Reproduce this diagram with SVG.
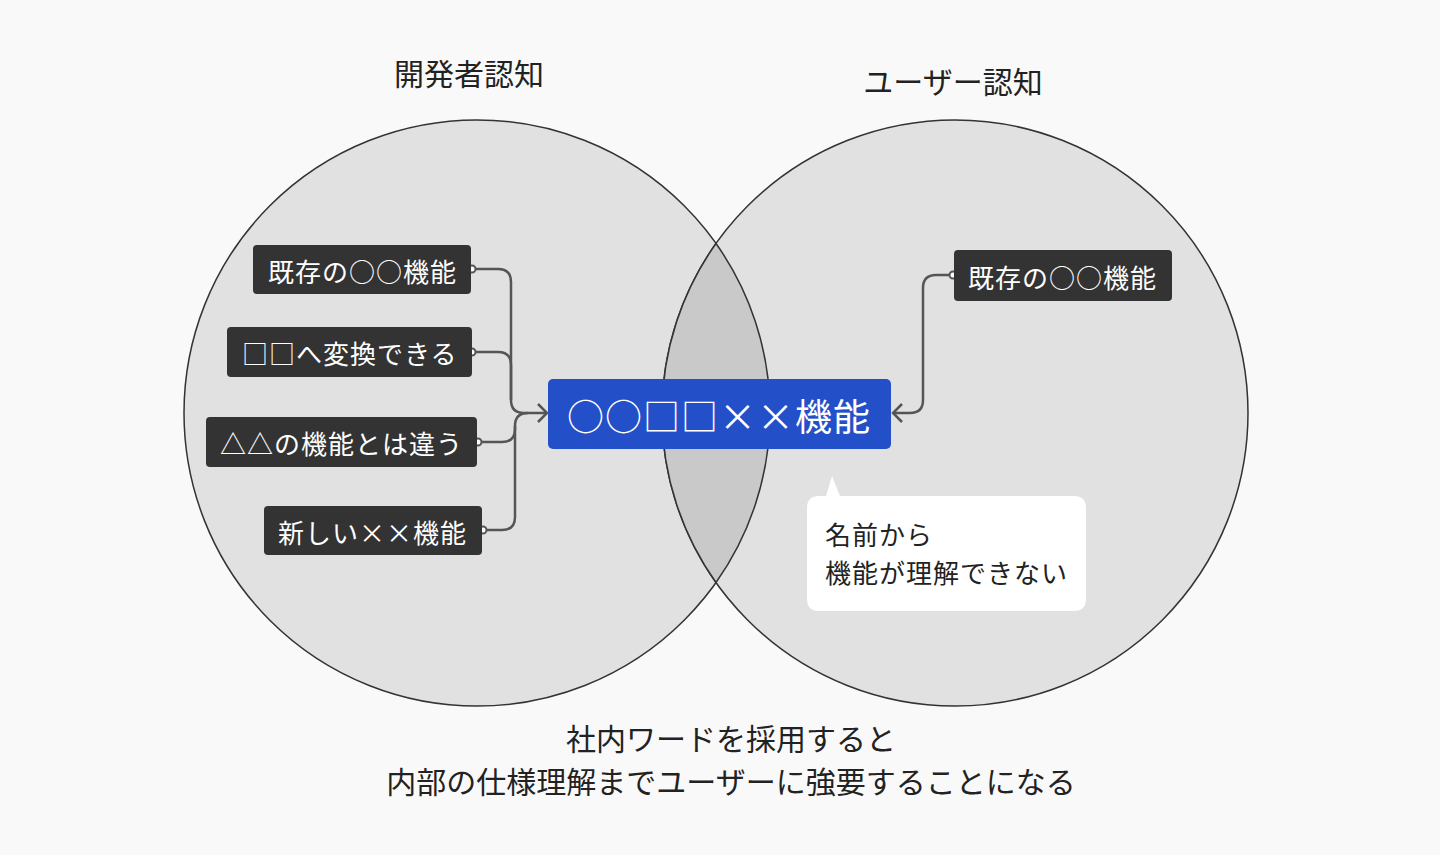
<svg xmlns="http://www.w3.org/2000/svg" width="1440" height="855" viewBox="0 0 1440 855">
<style>
text{font-family:"Noto Sans CJK JP","Noto Sans CJK SC",sans-serif;}
.venn{fill:#e1e1e1;stroke:#333;stroke-width:1.5;}
.lens{fill:#c9c9c9;stroke:none;}
.tag rect{fill:#333;}
.tag text{fill:#fff;font-size:26px;dominant-baseline:central;letter-spacing:1px;}
.conn{fill:none;stroke:#555;stroke-width:2.5;}
.dot{fill:#fff;stroke:#555;stroke-width:2;}
.title{fill:#222;font-size:30px;text-anchor:middle;}
.note{fill:#222;font-size:26px;letter-spacing:1px;}
</style>
<rect width="1440" height="855" fill="#f9f9f9"/>
<g id="venn">
<circle class="venn" cx="477" cy="413" r="293"/>
<circle class="venn" cx="955" cy="413" r="293"/>
<path class="lens" d="M716,243.5 A293,293 0 0,1 716,582.5 A293,293 0 0,1 716,243.5 Z"/>
<path d="M716,243.5 A293,293 0 0,1 716,582.5 M716,582.5 A293,293 0 0,1 716,243.5" fill="none" stroke="#333" stroke-width="1.5"/>
</g>
<g id="titles">
<text class="title" x="469" y="85">開発者認知</text>
<text class="title" x="953" y="93">ユーザー認知</text>
</g>
<g id="connectors">
<path class="conn" d="M472,269 H498 Q511,269 511,282 V400 Q511,413 524,413 H546"/>
<path class="conn" d="M472,352 H498 Q511,352 511,365 V400"/>
<path class="conn" d="M478,442 H502 Q515,442 515,429 V426 Q515,413 528,413"/>
<path class="conn" d="M483,530 H502 Q515,530 515,517 V426"/>
<path class="conn" d="M538,404 L547,413 L538,422"/>
<path class="conn" d="M953,275 H936 Q923,275 923,288 V400 Q923,413 910,413 H893"/>
<path class="conn" d="M902,404 L893,413 L902,422"/>
<circle class="dot" cx="472" cy="269" r="3.5"/>
<circle class="dot" cx="472" cy="352" r="3.5"/>
<circle class="dot" cx="478" cy="442" r="3.5"/>
<circle class="dot" cx="483" cy="530" r="3.5"/>
<circle class="dot" cx="953" cy="275" r="3.5"/>
</g>
<g id="n1" class="tag"><rect x="253" y="245" width="218" height="49" rx="4"/><text x="268" y="270">既存の○○機能</text></g>
<g id="n2" class="tag"><rect x="227" y="327" width="245" height="50" rx="4"/><text x="242" y="352">□□へ変換できる</text></g>
<g id="n3" class="tag"><rect x="206" y="417" width="271" height="50" rx="4"/><text x="220" y="442">△△の機能とは違う</text></g>
<g id="n4" class="tag"><rect x="264" y="506" width="218" height="49" rx="4"/><text x="278" y="531">新しい××機能</text></g>
<g id="n5" class="tag"><rect x="954" y="250" width="218" height="51" rx="4"/><text x="968" y="276">既存の○○機能</text></g>
<g id="center"><rect x="548" y="379" width="343" height="70" rx="5" fill="#2350c8"/><text x="567" y="415" fill="#fff" font-size="37" dominant-baseline="central" letter-spacing="1">○○□□××機能</text></g>
<g id="callout">
<path d="M815,496 H826 L832,476 L840,496 H1074 Q1086,496 1086,508 V599 Q1086,611 1074,611 H819 Q807,611 807,599 V508 Q807,496 819,496 Z" fill="#fff"/>
<text class="note" x="825" y="545">名前から</text>
<text class="note" x="825" y="583">機能が理解できない</text>
</g>
<g id="caption">
<text class="title" x="731" y="750">社内ワードを採用すると</text>
<text class="title" x="731" y="793">内部の仕様理解までユーザーに強要することになる</text>
</g>
</svg>
